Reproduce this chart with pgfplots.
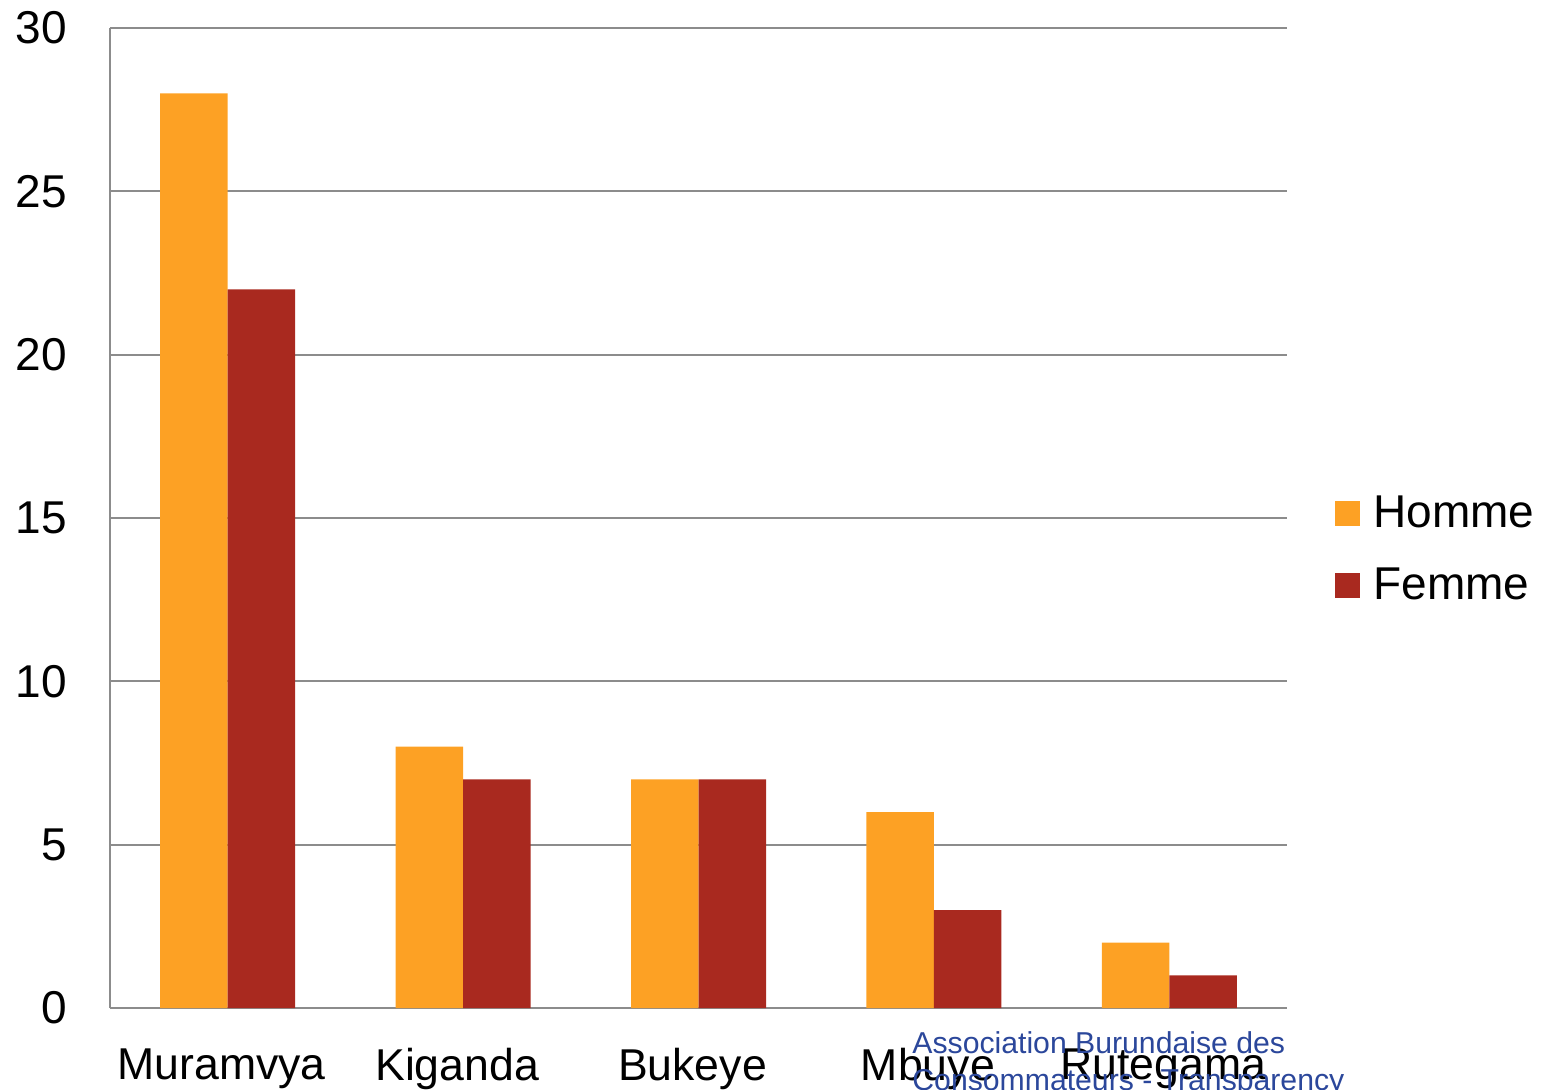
\documentclass[border=0pt]{standalone}
\usepackage{pgfplots}
\pgfplotsset{compat=1.18}
\usepackage{fontspec}
\setmainfont{Liberation Sans}
\definecolor{homme}{HTML}{FDA124}
\definecolor{femme}{HTML}{A9291F}
\definecolor{gridgray}{HTML}{8C8C8C}
\definecolor{wm}{HTML}{2B479B}
\begin{document}
\begin{tikzpicture}
\begin{axis}[
  at={(0,0)}, anchor=south west, scale only axis,
  width=588.5pt, height=490pt,
  ymin=0, ymax=30, xmin=-0.5, xmax=4.5,
  ytick={0,5,...,30},
  xtick={0,...,4},
  xticklabels={Muramvya,Kiganda,Bukeye,Mbuye,Rutegama},
  axis lines=left,
  axis line style={-, draw=gridgray, line width=1pt},
  ymajorgrids, grid style={draw=gridgray, line width=0.9pt},
  major tick length=0pt,
  /pgf/number format/assume math mode=true,
  yticklabel style={font=\fontsize{23}{23}\selectfont, inner sep=0pt, anchor=east, xshift=-21.5pt},
  xticklabel style={font=\fontsize{22.3}{22.3}\selectfont, inner sep=0pt, anchor=north, yshift=-20pt, xshift=-3pt},
  ybar, bar width=33.75pt,
  clip=false,
  legend style={at={(rel axis cs:1.0408,0.468)}, anchor=west, draw=none, fill=none,
    font=\fontsize{23}{23}\selectfont, inner sep=0pt, row sep=18.5pt,
    nodes={inner sep=0pt}},
  legend cell align=left,
  legend image code/.code={\fill[#1] (0pt,-6.25pt) rectangle (12.5pt,6.25pt); \path (19pt,0pt);},
]
\addplot[fill=homme, draw=none, bar shift=-16.875pt] coordinates {(0,28) (1,8) (2,7) (3,6) (4,2)};
\addplot[fill=femme, draw=none, bar shift=16.875pt] coordinates {(0,22) (1,7) (2,7) (3,3) (4,1)};
\legend{Homme,Femme}
\node[anchor=north west, inner sep=0pt, text=wm, font=\fontsize{15.1}{18.5}\selectfont, align=left]
  at (rel axis cs:0.6814,0) [yshift=-11.5pt] {Association Burundaise des\\Consommateurs - Transparency};
\end{axis}
\pgfresetboundingbox
\useasboundingbox (-55pt,-40.5pt) rectangle (720pt,504pt);
\end{tikzpicture}
\end{document}
